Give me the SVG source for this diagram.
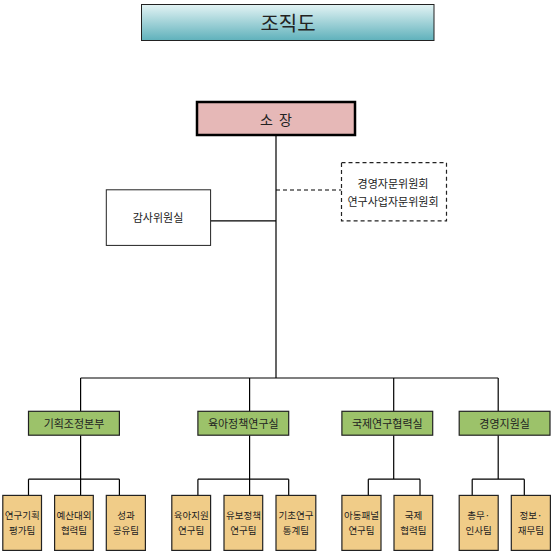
<svg xmlns="http://www.w3.org/2000/svg" width="551" height="551" viewBox="0 0 551 551">
<defs>
<linearGradient id="tg" x1="0" y1="0" x2="0" y2="1">
<stop offset="0" stop-color="#e3f3f4"/>
<stop offset="1" stop-color="#5fb1bb"/>
</linearGradient>
</defs>
<style>
text{font-family:"Noto Sans CJK KR","Noto Sans CJK SC",sans-serif;fill:#222;text-anchor:middle;dominant-baseline:central}
.ln{stroke:#000;stroke-width:1.2;fill:none}
.g rect{fill:#9cc26a;stroke:#222;stroke-width:1.2}
.o rect{fill:#f0cc88;stroke:#222;stroke-width:1.2}
.g text{font-size:11px}
.o text{font-size:9.5px}
</style>
<rect width="551" height="551" fill="#fff"/>
<g id="title">
<rect x="141.5" y="4.5" width="292.5" height="36" fill="url(#tg)" stroke="#222" stroke-width="1"/>
<text x="288" y="22" font-size="20">조직도</text>
</g>
<g id="connectors">
<path class="ln" d="M276 135V378M210.6 220.8H276M80.6 378H498.2M80.6 378V411.3M249.6 378V411.3M393.7 378V411.3M498.2 378V411.3"/>
<path class="ln" d="M276 190H341.5" stroke-dasharray="4,3"/>
<path class="ln" d="M80.6 435.2V479.2M28.5 479.2H119.4M28.5 479.2V495.4M80.6 479.2V495.4M119.4 479.2V495.4"/>
<path class="ln" d="M249.6 435.2V479.2M197.9 479.2H288.7M197.9 479.2V495.4M249.6 479.2V495.4M288.7 479.2V495.4"/>
<path class="ln" d="M393.7 435.2V479.2M368.3 479.2H420M368.3 479.2V495.4M420 479.2V495.4"/>
<path class="ln" d="M498.2 435.2V479.2M472.2 479.2H524.3M472.2 479.2V495.4M524.3 479.2V495.4"/>
</g>
<g id="director">
<rect x="197" y="102" width="158" height="33" fill="#e6b8b7" stroke="#000" stroke-width="2.5"/>
<text x="276" y="119" font-size="14" xml:space="preserve">소  장</text>
</g>
<g id="audit">
<rect x="106.3" y="189.8" width="104.3" height="55.6" fill="#fff" stroke="#222" stroke-width="1"/>
<text x="158" y="217" font-size="11">감사위원실</text>
</g>
<g id="advisory">
<rect x="341.5" y="162.7" width="105" height="58.1" fill="#fff" stroke="#222" stroke-width="1.2" stroke-dasharray="4,3"/>
<text x="393" y="183" font-size="11">경영자문위원회</text>
<text x="393" y="201" font-size="11">연구사업자문위원회</text>
</g>
<g id="d1" class="g"><rect x="28.5" y="411.3" width="90.9" height="23.9"/><text x="74" y="423.3">기획조정본부</text></g>
<g id="d2" class="g"><rect x="197.9" y="411.3" width="90.8" height="23.9"/><text x="243.3" y="423.3">육아정책연구실</text></g>
<g id="d3" class="g"><rect x="341.9" y="411.3" width="90.8" height="23.9"/><text x="387.3" y="423.3">국제연구협력실</text></g>
<g id="d4" class="g"><rect x="459.2" y="411.3" width="90.8" height="23.9"/><text x="504.6" y="423.3">경영지원실</text></g>
<g id="t1" class="o"><rect x="2.8" y="495.4" width="38.7" height="55"/><text x="22.2" y="514.8">연구기획</text><text x="22.2" y="530">평가팀</text></g>
<g id="t2" class="o"><rect x="54.6" y="495.4" width="38.7" height="55"/><text x="74" y="514.8">예산대외</text><text x="74" y="530">협력팀</text></g>
<g id="t3" class="o"><rect x="106.3" y="495.4" width="39.1" height="55"/><text x="125.9" y="514.8">성과</text><text x="125.9" y="530">공유팀</text></g>
<g id="t4" class="o"><rect x="171.8" y="495.4" width="38.8" height="55"/><text x="191.2" y="514.8">육아지원</text><text x="191.2" y="530">연구팀</text></g>
<g id="t5" class="o"><rect x="224" y="495.4" width="38.7" height="55"/><text x="243.4" y="514.8">유보정책</text><text x="243.4" y="530">연구팀</text></g>
<g id="t6" class="o"><rect x="276" y="495.4" width="39.8" height="55"/><text x="295.9" y="514.8">기초연구</text><text x="295.9" y="530">통계팀</text></g>
<g id="t7" class="o"><rect x="341.9" y="495.4" width="39.1" height="55"/><text x="361.5" y="514.8">아동패널</text><text x="361.5" y="530">연구팀</text></g>
<g id="t8" class="o"><rect x="394" y="495.4" width="38.7" height="55"/><text x="413.4" y="514.8">국제</text><text x="413.4" y="530">협력팀</text></g>
<g id="t9" class="o"><rect x="459.2" y="495.4" width="39" height="55"/><text x="478.7" y="514.8">총무·</text><text x="478.7" y="530">인사팀</text></g>
<g id="t10" class="o"><rect x="511.3" y="495.4" width="39.1" height="55"/><text x="530.9" y="514.8">정보·</text><text x="530.9" y="530">재무팀</text></g>
</svg>
